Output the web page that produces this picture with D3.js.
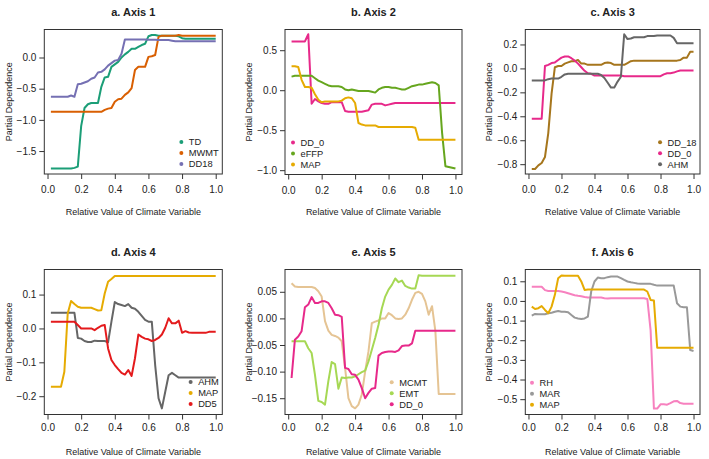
<!DOCTYPE html>
<html><head><meta charset="utf-8">
<script src="https://cdn.jsdelivr.net/npm/d3@7/dist/d3.min.js"></script>
<style>body{margin:0;background:#fff}svg{display:block}</style>
</head><body><svg id="chart" width="709" height="459"></svg>
<script>
// ---------- DATA ----------
const xValues = [0.02,0.04,0.06,0.08,0.10,0.12,0.14,0.16,0.18,0.20,0.22,0.24,0.26,0.28,0.30,0.32,0.34,0.36,0.38,0.40,0.42,0.44,0.46,0.48,0.50,0.52,0.54,0.56,0.58,0.60,0.62,0.64,0.66,0.68,0.70,0.72,0.74,0.76,0.78,0.80,0.82,0.84,0.86,0.88,0.90,0.92,0.94,0.96,0.98,1.00];
const xTicks = [0.0,0.2,0.4,0.6,0.8,1.0];

// a. Axis 1
const a_TD   = [-1.78,-1.78,-1.78,-1.78,-1.78,-1.78,-1.78,-1.77,-1.75,-1.10,-0.81,-0.75,-0.73,-0.73,-0.73,-0.47,-0.32,-0.31,-0.15,-0.11,-0.07,0.00,0.05,0.09,0.14,0.14,0.17,0.20,0.22,0.34,0.36,0.36,0.35,0.35,0.35,0.35,0.35,0.35,0.34,0.31,0.30,0.30,0.30,0.30,0.30,0.30,0.30,0.30,0.30,0.30];
const a_MWMT = [-0.87,-0.87,-0.87,-0.87,-0.87,-0.87,-0.87,-0.87,-0.87,-0.87,-0.87,-0.87,-0.87,-0.87,-0.87,-0.87,-0.84,-0.82,-0.81,-0.71,-0.67,-0.66,-0.60,-0.56,-0.49,-0.20,-0.15,-0.15,-0.15,0.01,0.02,0.04,0.33,0.35,0.35,0.35,0.35,0.35,0.36,0.35,0.35,0.35,0.35,0.35,0.35,0.35,0.35,0.35,0.35,0.35];
const a_DD18 = [-0.63,-0.63,-0.63,-0.63,-0.63,-0.63,-0.61,-0.63,-0.43,-0.42,-0.40,-0.38,-0.34,-0.32,-0.24,-0.23,-0.19,-0.13,-0.09,-0.05,-0.04,0.06,0.29,0.29,0.29,0.29,0.29,0.29,0.29,0.285,0.285,0.285,0.28,0.28,0.28,0.28,0.27,0.26,0.26,0.26,0.26,0.26,0.26,0.26,0.26,0.26,0.26,0.26,0.26,0.26];
const a_yTicks = [-1.5,-1.0,-0.5,0.0];

// b. Axis 2
const b_DD0  = [0.61,0.61,0.61,0.61,0.61,0.70,-0.17,-0.11,-0.14,-0.16,-0.17,-0.17,-0.15,-0.15,-0.15,-0.15,-0.26,-0.27,-0.27,-0.27,-0.27,-0.27,-0.26,-0.25,-0.18,-0.17,-0.17,-0.17,-0.19,-0.18,-0.17,-0.16,-0.16,-0.16,-0.16,-0.16,-0.16,-0.16,-0.16,-0.16,-0.16,-0.16,-0.16,-0.16,-0.16,-0.16,-0.16,-0.16,-0.16,-0.16];
const b_eFFP = [0.17,0.18,0.18,0.18,0.18,0.18,0.18,0.15,0.12,0.10,0.08,0.06,0.05,0.05,0.05,0.04,0.01,0.00,0.01,0.00,-0.01,-0.01,-0.01,-0.01,-0.02,-0.03,0.01,0.03,0.04,0.04,0.03,0.03,0.02,0.01,0.01,0.03,0.05,0.06,0.07,0.07,0.08,0.09,0.10,0.09,0.06,-0.53,-0.95,-0.96,-0.97,-0.98];
const b_MAP  = [0.30,0.30,0.29,0.13,0.04,0.04,0.03,-0.05,-0.12,-0.15,-0.14,-0.14,-0.14,-0.14,-0.14,-0.13,-0.10,-0.09,-0.10,-0.16,-0.41,-0.43,-0.44,-0.44,-0.44,-0.44,-0.46,-0.46,-0.46,-0.46,-0.46,-0.46,-0.46,-0.46,-0.46,-0.46,-0.46,-0.47,-0.62,-0.62,-0.62,-0.62,-0.62,-0.62,-0.62,-0.62,-0.62,-0.62,-0.62,-0.62];
const b_yTicks = [-1.0,-0.5,0.0,0.5];

// c. Axis 3
const c_DD18 = [-0.84,-0.84,-0.81,-0.79,-0.74,-0.54,-0.21,0.01,0.02,0.02,0.04,0.05,0.06,0.06,0.07,0.04,0.04,0.03,0.03,0.03,0.03,0.03,0.045,0.05,0.045,0.03,0.03,0.03,0.03,0.045,0.06,0.065,0.065,0.065,0.065,0.065,0.065,0.065,0.065,0.065,0.065,0.065,0.065,0.065,0.065,0.07,0.09,0.09,0.14,0.14];
const c_DD0  = [-0.42,-0.42,-0.42,-0.42,0.02,0.03,0.045,0.05,0.07,0.09,0.10,0.10,0.085,0.065,0.04,0.01,-0.02,-0.04,-0.045,-0.06,-0.06,-0.06,-0.06,-0.06,-0.06,-0.06,-0.06,-0.06,-0.065,-0.065,-0.065,-0.065,-0.065,-0.065,-0.065,-0.065,-0.065,-0.065,-0.065,-0.065,-0.05,-0.04,-0.04,-0.035,-0.025,-0.017,-0.017,-0.017,-0.017,-0.017];
const c_AHM  = [-0.10,-0.10,-0.10,-0.10,-0.10,-0.09,-0.085,-0.085,-0.085,-0.07,-0.05,-0.045,-0.045,-0.045,-0.045,-0.045,-0.045,-0.045,-0.045,-0.045,-0.045,-0.055,-0.08,-0.12,-0.16,-0.16,-0.11,-0.07,0.285,0.245,0.25,0.26,0.26,0.26,0.26,0.27,0.27,0.27,0.275,0.275,0.275,0.275,0.275,0.255,0.21,0.21,0.21,0.21,0.21,0.21];
const c_yTicks = [-0.8,-0.6,-0.4,-0.2,0.0,0.2];

// d. Axis 4
const d_AHM = [0.046,0.046,0.046,0.046,0.046,0.046,0.046,0.046,-0.028,-0.03,-0.037,-0.04,-0.04,-0.036,-0.037,-0.037,-0.037,-0.041,0.02,0.078,0.072,0.069,0.066,0.072,0.061,0.058,0.049,0.037,0.025,0.02,0.02,-0.108,-0.206,-0.236,-0.187,-0.138,-0.131,-0.138,-0.145,-0.145,-0.145,-0.145,-0.145,-0.145,-0.145,-0.145,-0.145,-0.145,-0.145,-0.145];
const d_MAP = [-0.172,-0.172,-0.172,-0.172,-0.128,0.044,0.081,0.072,0.064,0.061,0.061,0.061,0.061,0.057,0.053,0.054,0.103,0.138,0.146,0.155,0.155,0.155,0.155,0.155,0.155,0.155,0.155,0.155,0.155,0.155,0.155,0.155,0.155,0.155,0.155,0.155,0.155,0.155,0.155,0.155,0.155,0.155,0.155,0.155,0.155,0.155,0.155,0.155,0.155,0.155];
const d_DD5 = [0.02,0.02,0.02,0.02,0.02,0.02,0.02,0.02,0.01,0.0,0.0,0.0,0.0,-0.005,0.002,0.008,0.01,-0.059,-0.093,-0.108,-0.12,-0.131,-0.136,-0.123,-0.14,-0.088,-0.018,-0.025,-0.03,-0.032,-0.037,-0.034,-0.028,-0.018,0.002,0.03,0.015,0.015,0.023,-0.013,-0.008,-0.012,-0.013,-0.013,-0.013,-0.013,-0.013,-0.01,-0.01,-0.01];
const d_yTicks = [-0.2,-0.1,0.0,0.1];

// e. Axis 5
const e_MCMT = [0.066,0.06,0.059,0.059,0.059,0.059,0.059,0.057,0.051,0.041,-0.005,-0.023,-0.031,-0.033,-0.036,-0.043,-0.093,-0.15,-0.165,-0.169,-0.162,-0.143,-0.1,-0.062,-0.009,-0.006,-0.004,0.0,0.0,0.01,0.006,0.0,-0.001,0.0,0.007,0.019,0.035,0.048,0.05,0.046,0.032,0.007,0.023,-0.024,-0.142,-0.142,-0.142,-0.142,-0.142,-0.142];
const e_EMT  = [-0.043,-0.043,-0.043,-0.043,-0.043,-0.056,-0.065,-0.106,-0.155,-0.157,-0.162,-0.118,-0.082,-0.086,-0.132,-0.111,-0.112,-0.111,-0.111,-0.109,-0.105,-0.101,-0.098,-0.081,-0.059,-0.037,-0.012,0.019,0.041,0.054,0.063,0.075,0.068,0.071,0.061,0.058,0.056,0.056,0.081,0.08,0.08,0.08,0.08,0.08,0.08,0.08,0.08,0.08,0.08,0.08];
const e_DD0  = [-0.112,-0.04,-0.034,-0.024,0.021,0.026,0.04,0.029,0.029,0.032,0.032,0.029,0.019,0.007,0.006,0.003,-0.093,-0.095,-0.105,-0.106,-0.115,-0.131,-0.15,-0.14,-0.132,-0.131,-0.07,-0.065,-0.063,-0.062,-0.062,-0.063,-0.06,-0.052,-0.051,-0.051,-0.047,-0.023,-0.023,-0.023,-0.023,-0.023,-0.023,-0.023,-0.023,-0.023,-0.023,-0.023,-0.023,-0.023];
const e_yTicks = [-0.15,-0.10,-0.05,0.00,0.05];

// f. Axis 6
const f_RH  = [0.072,0.072,0.072,0.072,0.055,0.051,0.05,0.05,0.05,0.048,0.044,0.039,0.034,0.029,0.026,0.024,0.02,0.017,0.017,0.017,0.017,0.017,0.014,0.012,0.014,0.014,0.014,0.014,0.014,0.014,0.014,0.014,0.014,0.014,0.014,0.01,-0.15,-0.548,-0.548,-0.526,-0.526,-0.528,-0.52,-0.511,-0.509,-0.52,-0.523,-0.523,-0.523,-0.523];
const f_MAR = [-0.075,-0.066,-0.068,-0.068,-0.068,-0.063,-0.06,-0.055,-0.051,-0.055,-0.055,-0.058,-0.072,-0.085,-0.089,-0.092,-0.089,-0.08,0.048,0.099,0.119,0.116,0.116,0.121,0.124,0.124,0.124,0.116,0.107,0.099,0.095,0.092,0.089,0.087,0.087,0.087,0.087,0.082,0.078,0.078,0.078,0.078,0.078,0.078,-0.012,-0.029,-0.032,-0.032,-0.25,-0.255];
const f_MAP = [-0.029,-0.041,-0.037,-0.026,-0.046,-0.063,-0.029,0.031,0.116,0.13,0.128,0.128,0.128,0.128,0.128,0.099,0.056,0.058,0.058,0.058,0.058,0.058,0.058,0.058,0.058,0.058,0.058,0.058,0.058,0.058,0.058,0.058,0.058,0.058,0.058,0.048,0.005,0.002,-0.238,-0.238,-0.238,-0.238,-0.238,-0.238,-0.238,-0.238,-0.238,-0.238,-0.238,-0.238];
const f_yTicks = [-0.5,-0.4,-0.3,-0.2,-0.1,0.0,0.1];

const panelTitles = ["a. Axis 1","b. Axis 2","c. Axis 3","d. Axis 4","e. Axis 5","f. Axis 6"];
const xLabel = "Relative Value of Climate Variable";
const yLabel = "Partial Dependence";

// ---------- PANELS (data + styling) ----------
const panels = [
  {title:panelTitles[0], yTicks:a_yTicks, fmt:d3.format(".1f"),
   series:[{name:"TD",v:a_TD,c:"#1b9e77"},{name:"MWMT",v:a_MWMT,c:"#d95f02"},{name:"DD18",v:a_DD18,c:"#7570b3"}]},
  {title:panelTitles[1], yTicks:b_yTicks, fmt:d3.format(".1f"),
   series:[{name:"DD_0",v:b_DD0,c:"#e7298a"},{name:"eFFP",v:b_eFFP,c:"#66a61e"},{name:"MAP",v:b_MAP,c:"#e6ab02"}]},
  {title:panelTitles[2], yTicks:c_yTicks, fmt:d3.format(".1f"),
   series:[{name:"DD_18",v:c_DD18,c:"#a6761d"},{name:"DD_0",v:c_DD0,c:"#e7298a"},{name:"AHM",v:c_AHM,c:"#666666"}]},
  {title:panelTitles[3], yTicks:d_yTicks, fmt:d3.format(".1f"),
   series:[{name:"AHM",v:d_AHM,c:"#666666"},{name:"MAP",v:d_MAP,c:"#e6ab02"},{name:"DD5",v:d_DD5,c:"#e41a1c"}]},
  {title:panelTitles[4], yTicks:e_yTicks, fmt:d3.format(".2f"),
   series:[{name:"MCMT",v:e_MCMT,c:"#e5c494"},{name:"EMT",v:e_EMT,c:"#a6d854"},{name:"DD_0",v:e_DD0,c:"#e7298a"}]},
  {title:panelTitles[5], yTicks:f_yTicks, fmt:d3.format(".1f"),
   series:[{name:"RH",v:f_RH,c:"#f781bf"},{name:"MAR",v:f_MAR,c:"#999999"},{name:"MAP",v:f_MAP,c:"#e6ab02"}]}
];

// layout (pixels) per panel; legRight: anchor legend text to the right edge of the box
const layout = [
  {l:44.3, t:29.5, r:222.3, b:174,   yDom:[-1.868,0.449],   tickLab:17,   legRight:true, legY:142,   yLabX:8.5},
  {l:285,  t:29.5, r:462,   b:174.5, yDom:[-1.054,0.759],   tickLab:17,   legX:293,      legY:142.5, yLabX:248.5},
  {l:525.3,t:29.5, r:700,   b:174,   yDom:[-0.882,0.325],   tickLab:17,   legRight:true, legY:142.3, yLabX:488.5},
  {l:44.3, t:269.5,r:222.3, b:414.5, yDom:[-0.254,0.174],   tickLab:14.5, legRight:true, legY:382,   yLabX:8.5},
  {l:285,  t:269.5,r:462,   b:414.5, yDom:[-0.1806,0.0919], tickLab:14.5, legX:391.7,    legY:382.3, yLabX:248.5},
  {l:525.3,t:269.5,r:700,   b:414.5, yDom:[-0.578,0.160],   tickLab:14.5, legX:532,      legY:382.7, yLabX:488.5}
];

const FONT = "'Liberation Sans', Arial, Helvetica, sans-serif";
const TXT = "#222";
const LEG_FS = 9.3, LEG_GAP = 7.5;
const svg = d3.select("#chart");
svg.append("rect").attr("width",709).attr("height",459).attr("fill","#fff");

const minus = s => s.replace("-", "\u2212");

panels.forEach((p, i) => {
  const L = layout[i];
  const g = svg.append("g");
  const x = d3.scaleLinear().domain([-0.0192, 1.0392]).range([L.l, L.r]);
  const y = d3.scaleLinear().domain(L.yDom).range([L.b, L.t]);

  // lines
  const line = d3.line().x((d, k) => x(xValues[k])).y(d => y(d));
  p.series.forEach(s => {
    g.append("path").datum(s.v).attr("d", line)
      .attr("fill","none").attr("stroke", s.c).attr("stroke-width", 2)
      .attr("stroke-linejoin","round").attr("stroke-linecap","butt");
  });

  // x axis
  const xa = g.append("g").attr("transform", `translate(0,${L.b})`)
    .call(d3.axisBottom(x).tickValues(xTicks).tickFormat(d3.format(".1f")).tickSize(5).tickPadding(L.tickLab - 10));
  // y axis
  const ya = g.append("g").attr("transform", `translate(${L.l},0)`)
    .call(d3.axisLeft(y).tickValues(p.yTicks).tickFormat(d => minus(p.fmt(d))).tickSize(5).tickPadding(3));
  [xa, ya].forEach(a => {
    a.select(".domain").remove();
    a.selectAll("line").attr("stroke","#333");
    a.selectAll("text").attr("font-family",FONT).attr("font-size",10).attr("fill",TXT);
  });

  // frame
  g.append("rect").attr("x",L.l).attr("y",L.t).attr("width",L.r-L.l).attr("height",L.b-L.t)
    .attr("fill","none").attr("stroke","#333").attr("stroke-width",1);

  const cx = (L.l + L.r) / 2, cy = (L.t + L.b) / 2;
  // title
  g.append("text").attr("x",cx).attr("y",L.t - 14).attr("text-anchor","middle")
    .attr("font-family",FONT).attr("font-size",11).attr("font-weight","bold").attr("fill",TXT).text(p.title);
  // x label
  g.append("text").attr("x",cx).attr("y",L.b + 40.5).attr("text-anchor","middle")
    .attr("font-family",FONT).attr("font-size",9).attr("fill",TXT).text(xLabel);
  // y label
  g.append("text").attr("transform",`translate(${L.yLabX + 3},${cy}) rotate(-90)`).attr("text-anchor","middle")
    .attr("font-family",FONT).attr("font-size",9).attr("fill",TXT).text(yLabel);

  // legend
  const lg = g.append("g");
  const texts = p.series.map((s, k) => lg.append("text").attr("y", L.legY + k * 11).attr("dy","0.36em")
      .attr("font-family",FONT).attr("font-size",LEG_FS).attr("fill",TXT).text(s.name));
  let bx = L.legX;
  if (L.legRight) {
    const maxW = d3.max(texts, t => t.node().getComputedTextLength());
    bx = L.r - 3.5 - maxW - LEG_GAP;
  }
  texts.forEach(t => t.attr("x", bx + LEG_GAP));
  p.series.forEach((s, k) => {
    lg.append("circle").attr("cx",bx).attr("cy",L.legY + k * 11).attr("r",2).attr("fill",s.c);
  });
});
</script></body></html>
